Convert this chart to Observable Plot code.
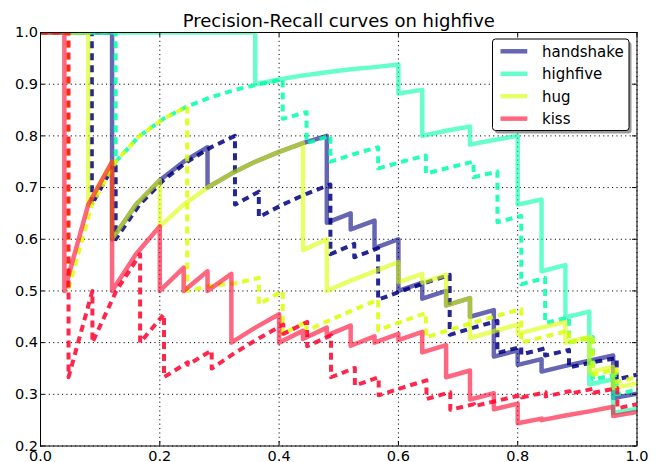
<!DOCTYPE html>
<html>
<head>
<meta charset="utf-8">
<script src="https://cdn.jsdelivr.net/npm/d3@7"></script>
<script src="https://cdn.jsdelivr.net/npm/@observablehq/plot@0.6"></script>
<style>
  html, body { margin: 0; padding: 0; background: white; }
</style>
</head>
<body>
<div id="chart"></div>
<script>
// ---- data (recall, precision) ----
const classes = ["handshake", "highfive", "hug", "kiss"];
const xTicks = [0, 0.2, 0.4, 0.6, 0.8, 1.0];
const yTicks = [0.2, 0.3, 0.4, 0.5, 0.6, 0.7, 0.8, 0.9, 1.0];
const titleText = "Precision-Recall curves on highfive";

const handshakeSolidR = [0,0.12,0.12,0.16,0.2,0.24,0.28,0.28,0.32,0.36,0.4,0.44,0.48,0.48,0.52,0.52,0.56,0.56,0.6,0.6,0.64,0.64,0.68,0.68,0.72,0.72,0.76,0.76,0.8,0.8,0.84,0.84,0.88,0.92,0.96,0.96,1];
const handshakeSolidP = [1,1,0.6,0.667,0.714,0.75,0.778,0.7,0.727,0.75,0.769,0.786,0.8,0.632,0.65,0.619,0.636,0.583,0.6,0.5,0.516,0.485,0.5,0.472,0.486,0.45,0.463,0.373,0.385,0.357,0.368,0.344,0.355,0.365,0.375,0.293,0.301];

const handshakeDashR = [0,0.086,0.086,0.126,0.126,0.166,0.206,0.246,0.286,0.326,0.326,0.366,0.366,0.406,0.446,0.486,0.486,0.526,0.526,0.566,0.566,0.606,0.646,0.686,0.686,0.726,0.766,0.766,0.806,0.806,0.846,0.846,0.886,0.886,0.926,0.966,0.966,1];
const handshakeDashP = [1,1,0.667,0.75,0.6,0.667,0.714,0.75,0.778,0.8,0.667,0.692,0.643,0.667,0.688,0.706,0.571,0.591,0.565,0.583,0.483,0.5,0.516,0.531,0.415,0.429,0.442,0.38,0.392,0.377,0.389,0.375,0.386,0.352,0.362,0.37,0.329,0.338];

const highfiveSolidR = [0,0.36,0.36,0.4,0.44,0.48,0.52,0.56,0.6,0.6,0.64,0.64,0.68,0.72,0.72,0.76,0.8,0.8,0.84,0.84,0.88,0.88,0.92,0.92,0.96,0.96,1];
const highfiveSolidP = [1,1,0.9,0.909,0.917,0.923,0.929,0.933,0.938,0.882,0.889,0.8,0.81,0.818,0.783,0.792,0.8,0.667,0.677,0.538,0.55,0.449,0.46,0.319,0.329,0.264,0.272];

const highfiveDashR = [0,0.126,0.126,0.166,0.206,0.246,0.286,0.326,0.366,0.406,0.406,0.446,0.446,0.486,0.486,0.526,0.566,0.566,0.606,0.646,0.646,0.686,0.726,0.726,0.766,0.766,0.806,0.806,0.846,0.846,0.886,0.886,0.926,0.926,0.966,0.966,1];
const highfiveDashP = [1,1,0.75,0.8,0.833,0.857,0.875,0.889,0.9,0.909,0.833,0.846,0.786,0.8,0.75,0.765,0.778,0.737,0.75,0.762,0.727,0.739,0.75,0.72,0.731,0.633,0.645,0.513,0.525,0.438,0.449,0.4,0.411,0.329,0.338,0.3,0.309];

const hugSolidR = [0,0.08,0.08,0.12,0.12,0.16,0.2,0.2,0.24,0.28,0.32,0.36,0.4,0.44,0.44,0.48,0.48,0.52,0.56,0.6,0.6,0.64,0.64,0.68,0.68,0.72,0.72,0.76,0.8,0.8,0.84,0.88,0.88,0.92,0.92,0.96,0.96,1];
const hugSolidP = [1,1,0.667,0.75,0.6,0.667,0.714,0.625,0.667,0.7,0.727,0.75,0.769,0.786,0.579,0.6,0.5,0.52,0.538,0.556,0.517,0.533,0.516,0.531,0.472,0.486,0.409,0.422,0.435,0.417,0.429,0.44,0.4,0.411,0.343,0.353,0.312,0.321];

const hugDashR = [0,0.046,0.046,0.086,0.126,0.166,0.206,0.246,0.246,0.286,0.326,0.366,0.366,0.406,0.406,0.446,0.446,0.486,0.526,0.566,0.566,0.606,0.646,0.646,0.686,0.726,0.766,0.806,0.806,0.846,0.886,0.886,0.926,0.926,0.966,0.966,1];
const hugDashP = [1,1,0.5,0.667,0.75,0.8,0.833,0.857,0.5,0.51,0.515,0.525,0.474,0.5,0.417,0.44,0.423,0.444,0.464,0.483,0.424,0.441,0.457,0.41,0.425,0.439,0.452,0.465,0.4,0.412,0.423,0.4,0.411,0.338,0.348,0.324,0.333];

const kissSolidR = [0,0.04,0.04,0.08,0.12,0.12,0.16,0.2,0.2,0.24,0.24,0.28,0.28,0.32,0.32,0.36,0.4,0.4,0.44,0.44,0.48,0.48,0.52,0.52,0.56,0.56,0.6,0.6,0.64,0.64,0.68,0.68,0.72,0.72,0.76,0.76,0.8,0.8,0.84,0.84,0.88,0.92,0.96,0.96,1];
const kissSolidP = [1,1,0.5,0.667,0.75,0.5,0.571,0.625,0.5,0.545,0.5,0.538,0.5,0.533,0.4,0.429,0.455,0.4,0.423,0.407,0.429,0.414,0.433,0.394,0.412,0.4,0.417,0.405,0.421,0.381,0.395,0.333,0.346,0.29,0.302,0.271,0.282,0.244,0.253,0.25,0.259,0.267,0.276,0.258,0.266];

const kissDashR = [0,0.047,0.047,0.087,0.087,0.127,0.167,0.167,0.207,0.207,0.247,0.247,0.287,0.287,0.327,0.367,0.407,0.407,0.447,0.447,0.487,0.487,0.527,0.527,0.567,0.567,0.607,0.647,0.647,0.687,0.687,0.727,0.727,0.767,0.807,0.807,0.847,0.847,0.887,0.887,0.927,0.927,0.967,0.967,1];
const kissDashP = [1,1,0.333,0.5,0.4,0.5,0.571,0.4,0.455,0.333,0.362,0.357,0.385,0.35,0.381,0.409,0.435,0.417,0.44,0.393,0.414,0.333,0.351,0.317,0.333,0.298,0.313,0.327,0.291,0.304,0.27,0.281,0.277,0.288,0.299,0.294,0.304,0.296,0.306,0.301,0.311,0.303,0.312,0.273,0.281];

// ---- styles ----
const colors = {handshake: "#000080", highfive: "#00ffaa", hug: "#d9ff00", kiss: "#ff002b"};
const W = 656, H = 462;
const mL = 40, mR = 19.5, mT = 32, mB = 16.5;
const frameW = W - mL - mR, frameH = H - mT - mB;

const series = [
  {name: "handshake", R: handshakeSolidR, P: handshakeSolidP, dashed: false},
  {name: "handshake", R: handshakeDashR, P: handshakeDashP, dashed: true},
  {name: "highfive", R: highfiveSolidR, P: highfiveSolidP, dashed: false},
  {name: "highfive", R: highfiveDashR, P: highfiveDashP, dashed: true},
  {name: "hug", R: hugSolidR, P: hugSolidP, dashed: false},
  {name: "hug", R: hugDashR, P: hugDashP, dashed: true},
  {name: "kiss", R: kissSolidR, P: kissSolidP, dashed: false},
  {name: "kiss", R: kissDashR, P: kissDashP, dashed: true}
];

const lineMarks = series.map(s => {
  const rows = s.R.map((r, i) => ({r, p: s.P[i]}));
  return Plot.line(rows, {
    x: "r", y: "p",
    stroke: colors[s.name],
    strokeWidth: s.dashed ? 4 : 4.5,
    strokeOpacity: s.dashed ? 0.85 : 0.6,
    strokeDasharray: s.dashed ? "7,5" : null,
    strokeLinejoin: "round",
    strokeLinecap: "butt",
    clip: true
  });
});

const fmt = d3.format(".1f");
const tickLen = 4.5;

const chart = Plot.plot({
  width: W, height: H,
  marginLeft: mL, marginRight: mR, marginTop: mT, marginBottom: mB,
  x: {domain: [0, 1], label: null},
  y: {domain: [0.2, 1], label: null},
  style: {fontFamily: "DejaVu Sans", fontSize: "14.5px", color: "black", background: "white", overflow: "visible"},
  marks: [
    Plot.gridX(xTicks, {stroke: "black", strokeOpacity: 1, strokeWidth: 1, strokeDasharray: "1.1,3.3"}),
    Plot.gridY(yTicks, {stroke: "black", strokeOpacity: 1, strokeWidth: 1, strokeDasharray: "1.1,3.3"}),
    ...lineMarks,
    Plot.tickX(xTicks, {x: d => d, insetTop: frameH - tickLen, stroke: "black"}),
    Plot.tickX(xTicks, {x: d => d, insetBottom: frameH - tickLen, stroke: "black"}),
    Plot.tickY(yTicks, {y: d => d, insetRight: frameW - tickLen, stroke: "black"}),
    Plot.tickY(yTicks, {y: d => d, insetLeft: frameW - tickLen, stroke: "black"}),
    Plot.frame({stroke: "black", strokeWidth: 1}),
    Plot.axisX(xTicks, {tickSize: 0, tickPadding: 4.5, tickFormat: fmt, fill: "black", label: null}),
    Plot.axisY(yTicks, {tickSize: 0, tickPadding: 2.5, tickFormat: fmt, fill: "black", label: null}),
    Plot.text([titleText], {text: d => d, frameAnchor: "top", lineAnchor: "bottom", dy: -6, fontSize: 18, fill: "black"})
  ]
});

// ---- legend (drawn on the plot's SVG) ----
const svg = d3.select(chart);
const lg = svg.append("g").attr("font-family", "DejaVu Sans").attr("font-size", "15px").attr("text-anchor", "start");
const boxX = W - mR - 144, boxY = mT + 7, boxW = 136.5, boxH = 91.5;
lg.append("rect").attr("x", boxX + 2.5).attr("y", boxY + 3).attr("width", boxW).attr("height", boxH)
  .attr("rx", 3).attr("fill", "#9a9a9a");
lg.append("rect").attr("x", boxX).attr("y", boxY).attr("width", boxW).attr("height", boxH)
  .attr("rx", 3).attr("fill", "white").attr("stroke", "black").attr("stroke-width", 1);
classes.forEach((c, i) => {
  const cy = boxY + 12.3 + i * 22.45;
  lg.append("line").attr("x1", boxX + 8).attr("x2", boxX + 34.8).attr("y1", cy).attr("y2", cy)
    .attr("stroke", colors[c]).attr("stroke-opacity", 0.6).attr("stroke-width", 4.5);
  lg.append("text").attr("x", boxX + 49.5).attr("y", cy + 5.6).attr("fill", "black")
    .attr("text-anchor", "start").text(c);
});

document.getElementById("chart").appendChild(chart);
</script>
</body>
</html>
